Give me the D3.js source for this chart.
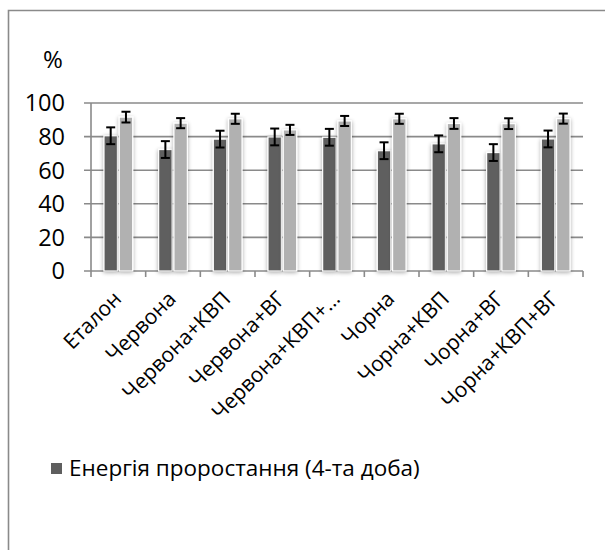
<!DOCTYPE html>
<html><head><meta charset="utf-8">
<script src="https://cdn.jsdelivr.net/npm/d3@7"></script>
<style>body{margin:0;background:#fff}svg{display:block}text{font-family:"Open Sans", sans-serif;fill:#000}</style>
</head><body>
<script>
const categories = ["Еталон","Червона","Червона+КВП","Червона+ВГ","Червона+КВП+…","Чорна","Чорна+КВП","Чорна+ВГ","Чорна+КВП+ВГ"];
const energy = [80.5, 72.3, 78.5, 79.8, 79.6, 71.6, 75.7, 70.5, 78.6];
const energyErr = [5, 5, 5, 5, 5, 5, 5, 5, 5];
const germ = [91.6, 88.0, 90.6, 84.0, 89.3, 90.6, 87.8, 87.7, 90.7];
const germErr = [3.2, 3, 3, 3, 3, 3, 3.2, 3.2, 3];
const yTicks = [0, 20, 40, 60, 80, 100];
const legendLabel = "Енергія проростання (4-та доба)";

const W = 605, H = 550;
const svg = d3.select("body").append("svg").attr("width", W).attr("height", H);
const defs = svg.append("defs");
const f = defs.append("filter").attr("id","sh").attr("x","-50%").attr("y","-20%").attr("width","200%").attr("height","140%");
f.append("feGaussianBlur").attr("in","SourceAlpha").attr("stdDeviation",2.2).attr("result","b");
f.append("feOffset").attr("in","b").attr("dx",0).attr("dy",1).attr("result","o");
f.append("feComponentTransfer").attr("in","o").attr("result","o2").append("feFuncA").attr("type","linear").attr("slope",0.35);
const m = f.append("feMerge"); m.append("feMergeNode").attr("in","o2"); m.append("feMergeNode").attr("in","SourceGraphic");

// outer frame (only left and top visible)
svg.append("path").attr("d","M8.5,550 V10.5 H605").attr("fill","none").attr("stroke","#8a8a8a").attr("stroke-width",1.6);

const x0 = 91, x1 = 583, yB = 271, yT = 103;
const x = d3.scaleBand().domain(categories).range([x0, x1]);
const y = d3.scaleLinear().domain([0, 100]).range([yB, yT]);
const xs = d3.scaleBand().domain(["e","g"]).range([0, x.bandwidth()]).paddingOuter(0.85).paddingInner(0.12);

// gridlines
svg.append("g").selectAll("line").data(yTicks).join("line")
  .attr("x1", x0 - 7).attr("x2", x1).attr("y1", d => y(d)).attr("y2", d => y(d))
  .attr("stroke", "#8a8a8a").attr("stroke-width", 1.6);
// y axis line
svg.append("line").attr("x1", x0).attr("x2", x0).attr("y1", yT).attr("y2", yB + 6).attr("stroke","#8a8a8a").attr("stroke-width",1.6);
// x ticks
svg.append("g").selectAll("line").data(categories.map((c,i)=>i+1)).join("line")
  .attr("x1", i => x0 + i * x.step()).attr("x2", i => x0 + i * x.step())
  .attr("y1", yB).attr("y2", yB + 6).attr("stroke","#8a8a8a").attr("stroke-width",1.6);

// y labels
svg.append("g").selectAll("text").data(yTicks).join("text")
  .attr("x", 65).attr("y", d => y(d)).attr("dy", "0.36em").attr("text-anchor","end")
  .attr("font-size", 23.5).text(d => d);
svg.append("text").attr("x", 53).attr("y", 68).attr("text-anchor","middle").attr("font-size", 24).text("%");

// bars
const g = svg.append("g");
categories.forEach((c, i) => {
  [["e", energy[i], energyErr[i], "#5e5e5e"], ["g", germ[i], germErr[i], "#b1b1b1"]].forEach(([k, v, e, col]) => {
    const bx = x(c) + xs(k), bw = xs.bandwidth();
    g.append("rect").attr("x", bx).attr("y", y(v)).attr("width", bw).attr("height", yB - y(v))
      .attr("fill", col).attr("stroke", "#fff").attr("stroke-width", 1.2).attr("filter","url(#sh)");
    const cx = bx + bw / 2;
    g.append("line").attr("x1", cx).attr("x2", cx).attr("y1", y(v + e)).attr("y2", y(v - e)).attr("stroke","#000").attr("stroke-width",2);
    [v + e, v - e].forEach(t => g.append("line").attr("x1", cx - 4.5).attr("x2", cx + 4.5).attr("y1", y(t)).attr("y2", y(t)).attr("stroke","#000").attr("stroke-width",2));
  });
});

// x labels
svg.append("g").selectAll("text").data(categories).join("text")
  .attr("transform", d => `translate(${x(d) + x.bandwidth()/2 - 1},${yB + 24}) rotate(-45)`)
  .attr("text-anchor","end").attr("font-size", 21).attr("dy","0.35em").text(d => d);

// legend
svg.append("rect").attr("x", 51).attr("y", 463).attr("width", 11).attr("height", 11).attr("fill", "#5e5e5e");
svg.append("text").attr("x", 69).attr("y", 468).attr("dy","0.36em").attr("font-size", 22.5).text(legendLabel);
</script>
</body></html>
